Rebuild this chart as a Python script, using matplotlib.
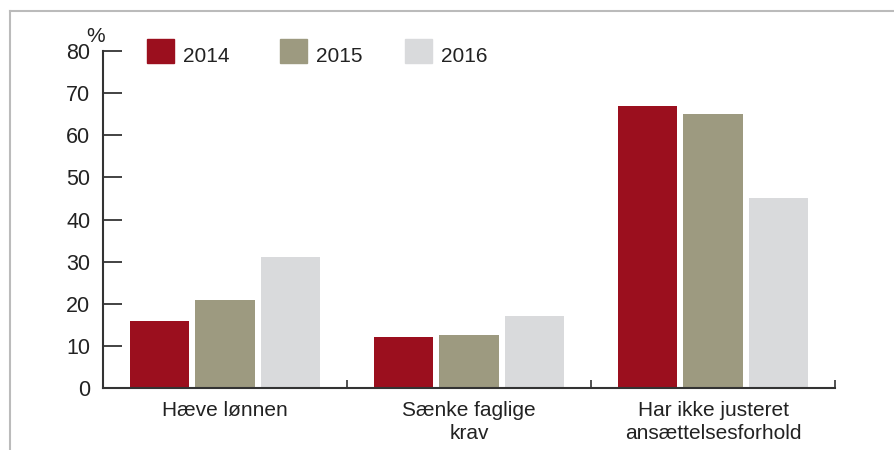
import numpy as np
import matplotlib
matplotlib.use("Agg")
import matplotlib.pyplot as plt
from matplotlib.patches import Rectangle
from matplotlib.lines import Line2D

plt.rcParams['font.family'] = ['Liberation Sans', 'DejaVu Sans']

#%% data
categories = ["Hæve lønnen", "Sænke faglige\nkrav", "Har ikke justeret\nansættelsesforhold"]
years = ["2014", "2015", "2016"]
v2014 = [16, 12, 67]
v2015 = [21, 12.7, 65]
v2016 = [31, 17, 45]
colors = ["#9B0F1E", "#9D9A80", "#D9DADC"]

#%% plot
fig = plt.figure(figsize=(8.95, 4.5), dpi=100)
ax = fig.add_axes([103/895, 1-388/450, (835-103)/895, (388-51)/450])

x = np.arange(len(categories))
w = 0.242
step = 0.27
for i, vals in enumerate([v2014, v2015, v2016]):
    ax.bar(x + (i-1)*step, vals, w, color=colors[i], label=years[i], zorder=2)

ax.set_xlim(-0.5, 2.5)
ax.set_ylim(0, 80)
ax.set_yticks(range(0, 81, 10))
ax.set_xticks(x)
ax.set_xticklabels(categories, fontsize=15, color="#222222", linespacing=1.3)
ax.set_xticks([0.5, 1.5, 2.5], minor=True)
ax.tick_params(axis='x', which='major', length=0, pad=9)
ax.tick_params(axis='x', which='minor', direction='in', length=6, width=1.2, color="#333333")
ax.tick_params(axis='y', direction='in', length=13.5, width=1.2, color="#222222",
               labelsize=15.5, labelcolor="#222222", pad=9)
for s in ['top', 'right']:
    ax.spines[s].set_visible(False)
for s in ['left', 'bottom']:
    ax.spines[s].set_linewidth(1.5)
    ax.spines[s].set_color("#333333")

ax.text(96/895, 1-36/450, "%", transform=fig.transFigure, fontsize=15,
        ha='center', va='center', color="#222222")

# legend
lx = [147, 280, 405]
for i in range(3):
    fig.patches.append(Rectangle((lx[i]/895, 1-63/450), 27/895, 24/450,
                                 transform=fig.transFigure, color=colors[i]))
    fig.text((lx[i]+36)/895, 1-62/450, years[i], fontsize=15, va='baseline',
             ha='left', color="#222222")

# outer frame
fig.add_artist(Line2D([10/895, 1], [1-11/450, 1-11/450], color="#BBBBBB", lw=1.5))
fig.add_artist(Line2D([10/895, 10/895], [0, 1-11/450], color="#BBBBBB", lw=1.5))

fig.savefig("out.png", dpi=100)
